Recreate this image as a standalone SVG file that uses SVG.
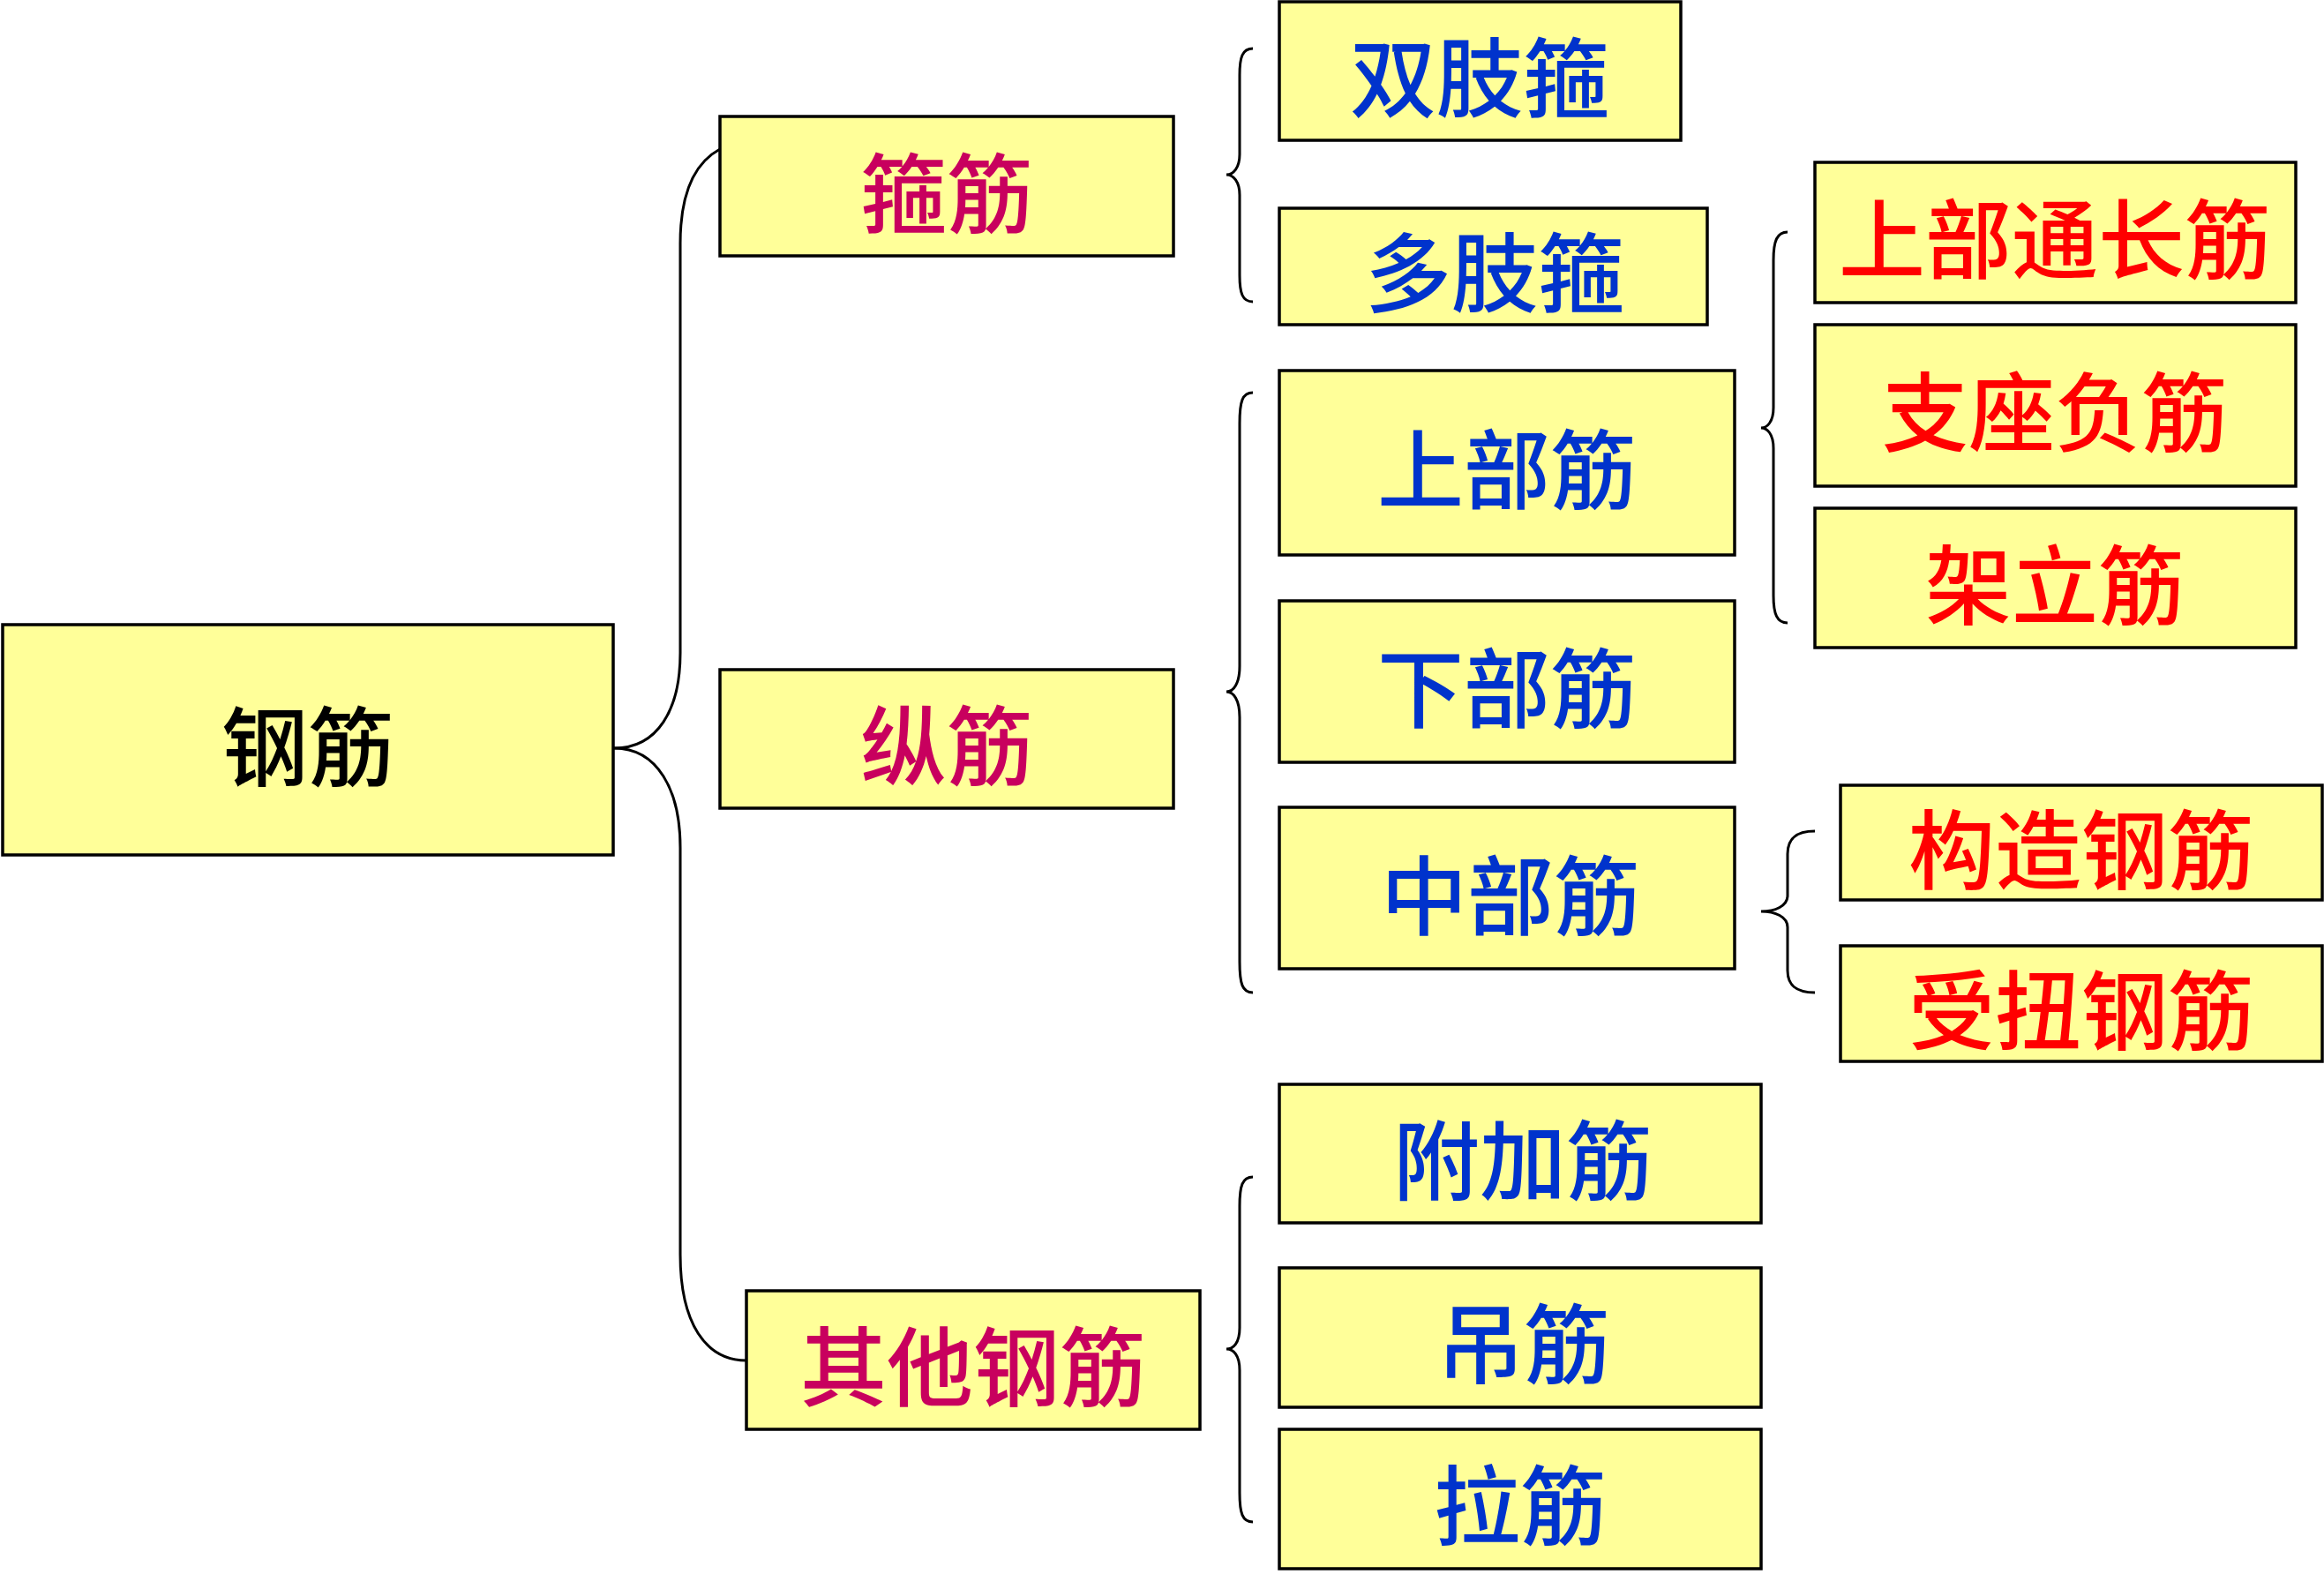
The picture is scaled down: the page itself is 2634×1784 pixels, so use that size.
<svg xmlns="http://www.w3.org/2000/svg" width="2634" height="1784" viewBox="0 0 2634 1784">
<style>
.box{fill:#FFFF99;stroke:#000;stroke-width:3.5}
.t{font-family:"Noto Sans CJK SC","Noto Sans CJK TC",sans-serif;font-size:98px;font-weight:500;text-anchor:middle;dominant-baseline:central}
.k{fill:#000}
.m{fill:#C8005E}
.b{fill:#0033CC}
.r{fill:#FF0000}
.c{fill:none;stroke:#000;stroke-width:3}
</style>
<rect width="2634" height="1784" fill="#fff"/>
<g id="connectors">
<path class="c" d="M696 848 C745 848 771 805 771 740 L771 276 C771 215 790 183 816 169"/>
<path class="c" d="M696 848 C745 848 771 895 771 961 L771 1422 C771 1500 800 1542 846 1542"/>
<path class="c" d="M1420 55 C1408 55 1405 65 1405 85 L1405 175 C1405 190 1398 198 1390 198 C1398 198 1405 206 1405 221 L1405 312 C1405 332 1408 342 1420 342"/>
<path class="c" d="M1420 445 C1408 445 1405 455 1405 480 L1405 755 C1405 775 1398 784 1390 784 C1398 784 1405 793 1405 813 L1405 1090 C1405 1115 1408 1125 1420 1125"/>
<path class="c" d="M2026 263 C2014 263 2010 273 2010 295 L2010 462 C2010 478 2003 485 1996 485 C2003 485 2010 492 2010 508 L2010 675 C2010 696 2014 706 2026 706"/>
<path class="c" d="M2057 942 C2036 942 2026 950 2026 968 L2026 1015 C2026 1027 2012 1033 1996 1033 C2012 1033 2026 1039 2026 1051 L2026 1100 C2026 1117 2036 1125 2057 1125"/>
<path class="c" d="M1420 1334 C1408 1334 1405 1344 1405 1367 L1405 1505 C1405 1522 1398 1529 1390 1529 C1398 1529 1405 1536 1405 1553 L1405 1692 C1405 1715 1408 1725 1420 1725"/>
</g>
<g id="n-gangjin"><rect class="box" x="3" y="708" width="692" height="261"/><text class="t k" x="349" y="840">钢筋</text></g>
<g id="n-gujin"><rect class="box" x="816" y="132" width="514" height="158"/><text class="t m" x="1073" y="213">箍筋</text></g>
<g id="n-zongjin"><rect class="box" x="816" y="759" width="514" height="157"/><text class="t m" x="1073" y="839">纵筋</text></g>
<g id="n-qita"><rect class="box" x="846" y="1463" width="514" height="157"/><text class="t m" x="1103" y="1543">其他钢筋</text></g>
<g id="n-shuangzhi"><rect class="box" x="1450" y="2" width="455" height="157"/><text class="t b" x="1677" y="82">双肢箍</text></g>
<g id="n-duozhi"><rect class="box" x="1450" y="236" width="485" height="132"/><text class="t b" x="1694" y="303">多肢箍</text></g>
<g id="n-shangbu"><rect class="box" x="1450" y="420" width="516" height="209"/><text class="t b" x="1708" y="526">上部筋</text></g>
<g id="n-xiabu"><rect class="box" x="1450" y="681" width="516" height="183"/><text class="t b" x="1708" y="774">下部筋</text></g>
<g id="n-zhongbu"><rect class="box" x="1450" y="915" width="516" height="183"/><text class="t b" x="1712" y="1009">中部筋</text></g>
<g id="n-fujia"><rect class="box" x="1450" y="1229" width="546" height="157"/><text class="t b" x="1726" y="1309">附加筋</text></g>
<g id="n-diao"><rect class="box" x="1450" y="1437" width="546" height="158"/><text class="t b" x="1727" y="1517">吊筋</text></g>
<g id="n-la"><rect class="box" x="1450" y="1620" width="546" height="158"/><text class="t b" x="1723" y="1700">拉筋</text></g>
<g id="n-tongchang"><rect class="box" x="2057" y="184" width="545" height="159"/><text class="t r" x="2329" y="265">上部通长筋</text></g>
<g id="n-zhizuo"><rect class="box" x="2057" y="368" width="545" height="183"/><text class="t r" x="2329" y="461">支座负筋</text></g>
<g id="n-jiali"><rect class="box" x="2057" y="576" width="545" height="158"/><text class="t r" x="2329" y="657">架立筋</text></g>
<g id="n-gouzao"><rect class="box" x="2086" y="890" width="546" height="130"/><text class="t r" x="2359" y="957">构造钢筋</text></g>
<g id="n-shouniu"><rect class="box" x="2086" y="1072" width="546" height="131"/><text class="t r" x="2359" y="1139">受扭钢筋</text></g>
</svg>
